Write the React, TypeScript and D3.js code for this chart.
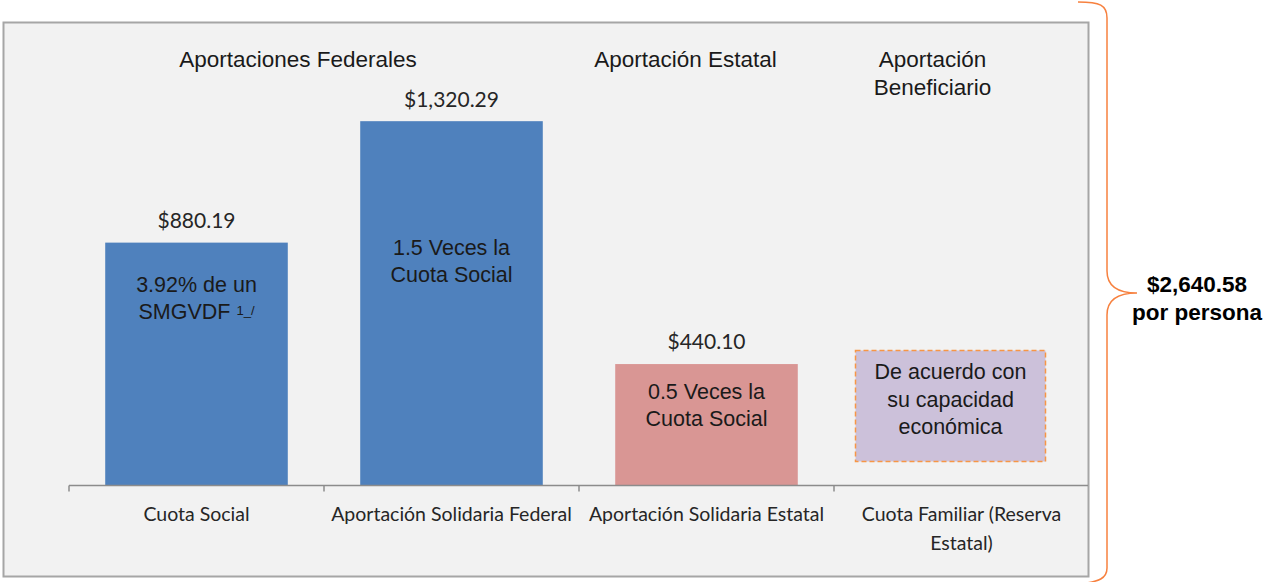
import React, {useEffect, useRef} from "react";
import * as d3 from "d3";

// categories along the x axis (labels may wrap)
const categories = [
    "Cuota Social",
    "Aportación Solidaria Federal",
    "Aportación Solidaria Estatal",
    "Cuota Familiar (Reserva Estatal)",
];
const categoryLines = [
    ["Cuota Social"],
    ["Aportación Solidaria Federal"],
    ["Aportación Solidaria Estatal"],
    ["Cuota Familiar (Reserva", "Estatal)"],
];
const values = [880.19, 1320.29, 440.10, null];
const valueLabels = ["$880.19", "$1,320.29", "$440.10", ""];
const barColours = ["#4f81bd", "#4f81bd", "#d99694", "#ccc1da"];
const barNotes = [
    ["3.92% de un", "SMGVDF "],
    ["1.5 Veces la", "Cuota Social"],
    ["0.5 Veces la", "Cuota Social"],
    ["De acuerdo con", "su capacidad", "económica"],
];
const noteOffsets = [42, 126, 27, 0];
const groupTitles = [
    {lines: ["Aportaciones Federales"], from: 0, to: 1},
    {lines: ["Aportación Estatal"], from: 2, to: 2},
    {lines: ["Aportación", "Beneficiario"], from: 3, to: 3},
];
const total = ["$2,640.58", "por persona"];

const W = 1263, H = 582;
const arial = "'Liberation Sans', Arial, sans-serif";
const calibri = "Lato, 'Noto Sans', sans-serif";

const App = () => {
    const ref = useRef<SVGSVGElement>(null);

    useEffect(() => {
        const svg = d3.select(ref.current);
        svg.selectAll("*").remove();

        const baseY = 485.5;
        const x = d3.scaleBand().domain(categories).range([69, 1089]).paddingInner(0.284).paddingOuter(0.142);
        const xs = d3.scaleBand().domain(categories).range([69, 1089]).padding(0);
        const y = d3.scaleLinear().domain([0, 1600]).range([baseY, 44]);

        // frame
        svg.append("rect")
            .attr("x", 3.5).attr("y", 22.5)
            .attr("width", 1085).attr("height", 554)
            .attr("fill", "#f2f2f2")
            .attr("stroke", "#a6a6a6").attr("stroke-width", 2);

        // bars
        const data = categories.map((c, i) => ({c, v: values[i], i}));
        svg.append("g").selectAll("rect")
            .data(data.filter(d => d.v != null))
            .join("rect")
            .attr("x", d => x(d.c)!)
            .attr("width", x.bandwidth())
            .attr("y", d => y(d.v as number))
            .attr("height", d => baseY - y(d.v as number))
            .attr("fill", d => barColours[d.i]);

        // value labels
        svg.append("g").selectAll("text")
            .data(data.filter(d => d.v != null))
            .join("text")
            .attr("x", d => x(d.c)! + x.bandwidth() / 2)
            .attr("y", d => y(d.v as number) - 22)
            .attr("dy", "0.35em")
            .attr("text-anchor", "middle")
            .style("font-family", calibri)
            .style("font-size", "21px")
            .attr("fill", "#262626")
            .text(d => valueLabels[d.i]);

        // notes inside bars
        data.forEach(d => {
            const cx = x(d.c)! + x.bandwidth() / 2;
            let top;
            if (d.v == null) {
                // dashed box for the beneficiary contribution
                const bw = 190, bt = 350.5, bh = 111;
                const bx = xs(d.c)! + xs.bandwidth() / 2 - 11 - bw / 2;
                svg.append("rect")
                    .attr("x", bx).attr("y", bt)
                    .attr("width", bw).attr("height", bh)
                    .attr("fill", barColours[d.i])
                    .attr("stroke", "#f79646").attr("stroke-width", 1.5)
                    .attr("stroke-dasharray", "5,3");
                top = bt + 21;
                svg.append("text")
                    .attr("text-anchor", "middle")
                    .style("font-family", arial).style("font-size", "21.5px")
                    .attr("fill", "#1a1a1a")
                    .selectAll("tspan").data(barNotes[d.i]).join("tspan")
                    .attr("x", bx + bw / 2)
                    .attr("y", (_, k) => top + k * 27.5)
                    .attr("dy", "0.35em")
                    .text(t => t);
                return;
            }
            top = y(d.v) + noteOffsets[d.i];
            const txt = svg.append("text")
                .attr("text-anchor", "middle")
                .style("font-family", arial).style("font-size", "21.5px")
                .attr("fill", "#1a1a1a");
            barNotes[d.i].forEach((t, k) => {
                const line = txt.append("tspan")
                    .attr("x", cx)
                    .attr("y", top + k * 27)
                    .attr("dy", "0.35em")
                    .text(t);
                if (d.i === 0 && k === 1) {
                    // footnote marker
                    line.append("tspan").attr("dy", "-0.35em").style("font-size", "13px").text("1_/");
                }
            });
        });

        // axis
        const axis = svg.append("g").attr("transform", `translate(0,${baseY})`);
        axis.append("line")
            .attr("x1", 69).attr("x2", 1088)
            .attr("stroke", "#8c8c8c").attr("stroke-width", 1.5);
        axis.selectAll(".tick")
            .data(categories)
            .join("line")
            .attr("x1", d => xs(d)!).attr("x2", d => xs(d)!)
            .attr("y1", 0).attr("y2", 6)
            .attr("stroke", "#8c8c8c").attr("stroke-width", 1.5);

        categories.forEach((c, i) => {
            svg.append("text")
                .attr("text-anchor", "middle")
                .style("font-family", calibri).style("font-size", "19.5px")
                .attr("fill", "#262626")
                .selectAll("tspan").data(categoryLines[i]).join("tspan")
                .attr("x", xs(c)! + xs.bandwidth() / 2)
                .attr("y", (_, k) => 514 + k * 29)
                .attr("dy", "0.35em")
                .text(t => t);
        });

        // group titles
        groupTitles.forEach(g => {
            const cx = (xs(categories[g.from])! + xs(categories[g.to])! + xs.bandwidth()) / 2;
            const shift = g.from === 3 ? -29 : g.from === 2 ? -21 : -26;
            svg.append("text")
                .attr("text-anchor", "middle")
                .style("font-family", arial).style("font-size", "22.5px")
                .attr("fill", "#1a1a1a")
                .selectAll("tspan").data(g.lines).join("tspan")
                .attr("x", cx + shift)
                .attr("y", (_, k) => 59 + k * 28)
                .attr("dy", "0.35em")
                .text(t => t);
        });

        // brace
        const bx = 1107, tip = 1137, mid = 293;
        const brace = d3.path();
        brace.moveTo(1078, 2);
        brace.bezierCurveTo(1100, 2, bx, 5, bx, 18);
        brace.lineTo(bx, mid - 22);
        brace.bezierCurveTo(bx, mid - 4, tip - 15, mid, tip, mid);
        brace.bezierCurveTo(tip - 15, mid, bx, mid + 4, bx, mid + 22);
        brace.lineTo(bx, H - 14);
        brace.bezierCurveTo(bx, H - 4, 1100, H, 1078, H + 2);
        svg.append("path")
            .attr("d", brace.toString())
            .attr("fill", "none")
            .attr("stroke", "#f7813f").attr("stroke-width", 1.5);

        svg.append("text")
            .attr("text-anchor", "middle")
            .style("font-family", arial).style("font-size", "22.5px").style("font-weight", "bold")
            .attr("fill", "#000")
            .selectAll("tspan").data(total).join("tspan")
            .attr("x", 1197)
            .attr("y", (_, k) => 284 + k * 28)
            .attr("dy", "0.35em")
            .text(t => t);
    }, []);

    return (
        <svg
            width={W}
            height={H}
            ref={ref}
            style={{position: "absolute", left: 0, top: 0, background: "#fff"}}
        />
    );
};

export default App;
